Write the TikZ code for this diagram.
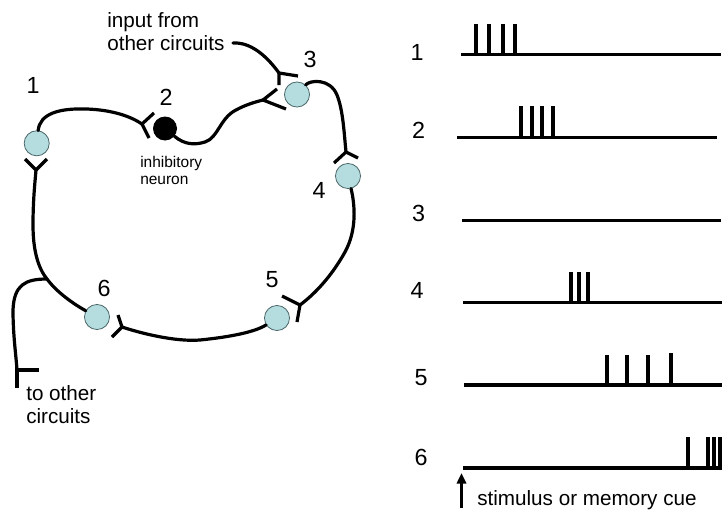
\documentclass[tikz,border=0pt]{standalone}
\usepackage{fontspec}
\setmainfont{Liberation Sans}
\usetikzlibrary{arrows.meta}
\definecolor{cellblue}{HTML}{B5DDE0}
\definecolor{celledge}{HTML}{4A6668}
\begin{document}
\begin{tikzpicture}[x=0.75pt,y=-0.75pt,
  cell/.style={circle,fill=cellblue,draw=celledge,line width=0.6pt,minimum size=18.8pt,inner sep=0pt},
  inhib/.style={circle,fill=black,minimum size=18pt,inner sep=0pt},
  wire/.style={line width=2.4pt,line cap=round},
  arm/.style={line width=2.4pt},
  lbl/.style={font=\fontsize{17.5pt}{19pt}\selectfont,inner sep=0pt},
  small/.style={font=\fontsize{11.6pt}{13pt}\selectfont,inner sep=0pt,anchor=base west},
  txt/.style={font=\fontsize{15.5pt}{17pt}\selectfont,inner sep=0pt,anchor=base west},
  train/.style={line width=2.3pt},
  spike/.style={line width=2.3pt}]
\useasboundingbox (0,0) rectangle (723,514);
\fill[white] (0,0) rectangle (723,514);

% neurons
\node[cell] (n1) at (36.7,143.3) {};
\node[inhib] (n2) at (165,128.5) {};
\node[cell] (n3) at (297,94.5) {};
\node[cell] (n4) at (348,176) {};
\node[cell] (n5) at (277,318) {};
\node[cell] (n6) at (97,317) {};

% neuron labels
\node[lbl] (l1) at (33,85) {1};
\node[lbl] (l2) at (166,97) {2};
\node[lbl] (l3) at (310,59) {3};
\node[lbl] (l4) at (319,190) {4};
\node[lbl] (l5) at (272,280) {5};
\node[lbl] (l6) at (104,288) {6};

% texts
\node[txt] (t1) at (107,27) {input from};
\node[txt] (t2) at (107,50) {other circuits};
\node[small] (t3) at (140,167) {inhibitory};
\node[small] (t4) at (140,184) {neuron};
\node[txt] (t5) at (26,400) {to other};
\node[txt] (t6) at (26,423) {circuits};

% synapse junctions
\coordinate (sA) at (142,124);
\coordinate (sB) at (263,100);
\coordinate (sC) at (279,73);
\coordinate (sD) at (346,152);
\coordinate (sE) at (300,305);
\coordinate (sF) at (122,327);
\coordinate (sG) at (36,170);
\coordinate (sH) at (17,370);
\coordinate (inp) at (233,43);
\coordinate (br) at (47,279);

% wires
\draw[wire] (n1) .. controls (40,114) and (58,108) .. (87,109) .. controls (112,110) and (130,116) .. (sA);
\draw[wire] (n2) .. controls (185,145) and (195,145) .. (205,142) .. controls (218,138) and (220,118) .. (236,110) .. controls (245,105) and (255,102) .. (sB);
\draw[wire] (inp) .. controls (250,42) and (266,55) .. (sC);
\draw[wire] (n3) .. controls (310,80) and (330,78) .. (337,95) .. controls (343,110) and (344,132) .. (sD);
\draw[wire] (n4) .. controls (355,205) and (357,230) .. (345,252) .. controls (335,270) and (320,290) .. (sE);
\draw[wire] (n5) .. controls (255,332) and (230,337) .. (200,340) .. controls (175,342) and (140,333) .. (sF);
\draw[wire] (n6) .. controls (70,302) and (55,290) .. (br) .. controls (38,268) and (33,250) .. (33,225) .. controls (33,200) and (35,182) .. (sG);
\draw[wire] (br) .. controls (25,279) and (14,285) .. (13,310) .. controls (13,335) and (16,355) .. (sH);

% synapse arms
\draw[arm] (154,113) -- (sA) -- (149,138);
\draw[arm] (277,89) -- (sB) -- (286,109);
\draw[arm] (279,85) -- (sC) -- (298,76);
\draw[arm] (334,163) -- (sD) -- (358,158);
\draw[arm] (282,296) -- (sE) -- (297,322);
\draw[arm] (118,315) -- (sF) -- (112,337);
\draw[arm] (25,159) -- (sG) -- (47,159);
\draw[arm] (17,388) -- (sH) -- (39,370);

% spike trains
\node[lbl] (r1) at (417,52.5) {1};
\node[lbl] (r2) at (418.5,130) {2};
\node[lbl] (r3) at (418.5,213) {3};
\node[lbl] (r4) at (417,290) {4};
\node[lbl] (r5) at (421,378) {5};
\node[lbl] (r6) at (421,457) {6};

\draw[train] (461,54.5) -- (721,54.5);
\foreach \x in {476,489,503,515} \draw[spike] (\x,54.5) -- (\x,24);
\draw[train] (457,137.5) -- (717,137.5);
\foreach \x in {521,532,542,553} \draw[spike] (\x,137.5) -- (\x,106);
\draw[train] (462,220.5) -- (721,220.5);
\draw[train] (463,302.5) -- (722,302.5);
\foreach \x in {571,579,588} \draw[spike] (\x,302.5) -- (\x,272);
\draw[train] (464,385) -- (722,385);
\foreach \x/\t in {607/355,627/355,648/355,671/353} \draw[spike] (\x,385) -- (\x,\t);
\draw[train] (463,468) -- (722,468);
\foreach \x in {688,708,714,720} \draw[spike] (\x,468) -- (\x,437);

% stimulus arrow
\coordinate (a0) at (461.5,508);
\coordinate (a1) at (461.5,473);
\draw[line width=1.9pt,-{Triangle[length=8pt,width=7pt]}] (a0) -- (a1);
\node[txt] (t7) at (477,505) {stimulus or memory cue};
\end{tikzpicture}
\end{document}
